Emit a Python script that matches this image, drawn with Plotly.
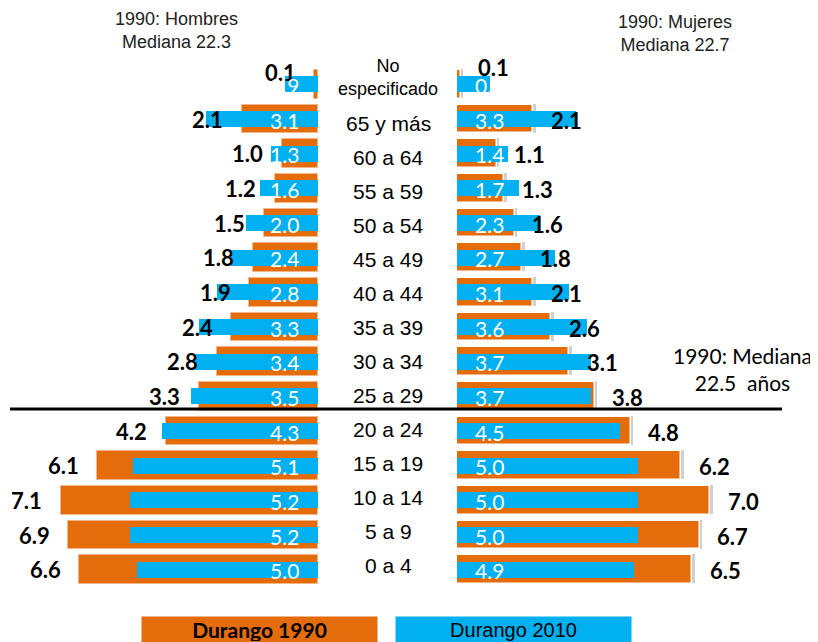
import plotly.graph_objects as go

categorias = ["0 a 4", "5 a 9", "10 a 14", "15 a 19", "20 a 24", "25 a 29",
              "30 a 34", "35 a 39", "40 a 44", "45 a 49", "50 a 54", "55 a 59",
              "60 a 64", "65 y más", "No especificado"]
hombres_1990 = [6.6, 6.9, 7.1, 6.1, 4.2, 3.3, 2.8, 2.4, 1.9, 1.8, 1.5, 1.2, 1.0, 2.1, 0.1]
hombres_2010 = [5.0, 5.2, 5.2, 5.1, 4.3, 3.5, 3.4, 3.3, 2.8, 2.4, 2.0, 1.6, 1.3, 3.1, 0.9]
mujeres_1990 = [6.5, 6.7, 7.0, 6.2, 4.8, 3.8, 3.1, 2.6, 2.1, 1.8, 1.6, 1.3, 1.1, 2.1, 0.1]
mujeres_2010 = [4.9, 5.0, 5.0, 5.0, 4.5, 3.7, 3.7, 3.6, 3.1, 2.7, 2.3, 1.7, 1.4, 3.3, 0.9]

ORANGE = "#E46C0A"
BLUE = "#00B0F0"
NUM_FONT = "Lato"
TXT_FONT = "Liberation Sans"

# page body has an 8px margin: work in window pixels and convert
OFF = 8
W, H = 818 - OFF, 642 - OFF
PLOT_TOP, PLOT_BOTTOM = 67, 587          # window pixels
LABEL_FIRST, LABEL_STEP = 565.5, 34.0    # window pixels, category label column
PX_PER_UNIT = 36.2
LEFT_END = 318
RIGHT_START = 457


def px(xw):
    return (xw - OFF) / W


def py(yw):
    return (PLOT_BOTTOM - yw) / (PLOT_BOTTOM - PLOT_TOP)


fig = go.Figure()

# soft shadow behind right-hand 1990 bars
fig.add_trace(go.Bar(y=categorias, x=[v + 0.07 for v in mujeres_1990], base=0.0,
                     orientation="h", width=0.83, offset=-0.39,
                     marker=dict(color="rgba(120,120,120,0.35)", line=dict(width=0)),
                     xaxis="x2", yaxis="y", hoverinfo="skip", showlegend=False))

fig.add_trace(go.Bar(y=categorias, x=hombres_1990, orientation="h", width=0.83,
                     marker=dict(color=ORANGE, line=dict(color="#F4B58A", width=1)),
                     xaxis="x", yaxis="y", name="Durango 1990", showlegend=False))
fig.add_trace(go.Bar(y=categorias, x=hombres_2010, orientation="h", width=0.46,
                     marker=dict(color=BLUE, line=dict(width=0)),
                     xaxis="x", yaxis="y", name="Durango 2010", showlegend=False))
fig.add_trace(go.Bar(y=categorias, x=mujeres_1990, orientation="h", width=0.83,
                     marker=dict(color=ORANGE, line=dict(color="white", width=1.5)),
                     xaxis="x2", yaxis="y", name="Durango 1990", showlegend=False))
fig.add_trace(go.Bar(y=categorias, x=mujeres_2010, orientation="h", width=0.46,
                     marker=dict(color=BLUE, line=dict(width=0)),
                     xaxis="x2", yaxis="y", name="Durango 2010", showlegend=False))

annotations = []
for i, cat in enumerate(categorias):
    ne = (cat == "No especificado")
    # 1990 values (bold black, outside orange bars)
    annotations.append(dict(x=hombres_1990[i], y=cat, xref="x", yref="y",
                            text=f"<b>{hombres_1990[i]:.1f}</b>", showarrow=False,
                            xanchor="center", xshift=-34, yshift=12 if ne else 0,
                            font=dict(family=NUM_FONT, size=22, color="black")))
    annotations.append(dict(x=mujeres_1990[i], y=cat, xref="x2", yref="y",
                            text=f"<b>{mujeres_1990[i]:.1f}</b>", showarrow=False,
                            xanchor="center", xshift=33, yshift=17 if ne else -1,
                            font=dict(family=NUM_FONT, size=22, color="black")))
    # 2010 values (white, inside near center)
    annotations.append(dict(x=0, y=cat, xref="x", yref="y", text=f"{hombres_2010[i]:.1f}",
                            showarrow=False, xanchor="right", xshift=-17, yshift=-1,
                            font=dict(family=NUM_FONT, size=21, color="white")))
    annotations.append(dict(x=0, y=cat, xref="x2", yref="y", text=f"{mujeres_2010[i]:.1f}",
                            showarrow=False, xanchor="left", xshift=16, yshift=-1,
                            font=dict(family=NUM_FONT, size=21, color="white")))
    # category labels (slightly tighter spacing than the bars)
    annotations.append(dict(x=px(388), y=py(LABEL_FIRST - LABEL_STEP * i),
                            xref="paper", yref="paper",
                            text=cat.replace(" ", "<br>") if ne else cat,
                            showarrow=False, xanchor="center", yanchor="middle",
                            yshift=12 if ne else 0,
                            font=dict(family=TXT_FONT, size=18 if ne else 21, color="black")))

# titles
annotations.append(dict(x=px(176), y=py(30), xref="paper", yref="paper",
                        text="1990: Hombres<br>Mediana 22.3", showarrow=False,
                        xanchor="center", yanchor="middle",
                        font=dict(family=TXT_FONT, size=18, color="#222")))
annotations.append(dict(x=px(675), y=py(33), xref="paper", yref="paper",
                        text="1990: Mujeres<br>Mediana 22.7", showarrow=False,
                        xanchor="center", yanchor="middle",
                        font=dict(family=TXT_FONT, size=18, color="#222")))
annotations.append(dict(x=px(742), y=py(369), xref="paper", yref="paper",
                        text="1990: Mediana<br>22.5  años", showarrow=False,
                        xanchor="center", yanchor="middle",
                        font=dict(family=NUM_FONT, size=21, color="black")))

# legend boxes
annotations.append(dict(x=px(259.5), y=py(629), xref="paper", yref="paper",
                        text="<b>Durango 1990</b>", showarrow=False, width=233, height=23,
                        bgcolor=ORANGE, xanchor="center", yanchor="middle",
                        font=dict(family=NUM_FONT, size=21, color="black")))
annotations.append(dict(x=px(513.5), y=py(629), xref="paper", yref="paper",
                        text="Durango 2010", showarrow=False, width=233, height=23,
                        bgcolor=BLUE, xanchor="center", yanchor="middle",
                        font=dict(family=TXT_FONT, size=20, color="black")))

shapes = [dict(type="line", xref="paper", yref="paper",
               x0=px(10), x1=px(782), y0=py(409), y1=py(409),
               line=dict(color="black", width=3))]

fig.update_layout(
    width=W, height=H,
    margin=dict(l=0, r=0, t=PLOT_TOP - OFF, b=H - (PLOT_BOTTOM - OFF), pad=0),
    paper_bgcolor="white", plot_bgcolor="white",
    barmode="overlay",
    bargap=0,
    xaxis=dict(domain=[0, px(LEFT_END)], range=[(LEFT_END - OFF) / PX_PER_UNIT, 0],
               visible=False, fixedrange=True),
    xaxis2=dict(domain=[px(RIGHT_START), 1], range=[0, (818 - RIGHT_START) / PX_PER_UNIT],
                visible=False, fixedrange=True),
    yaxis=dict(categoryorder="array", categoryarray=categorias, range=[-0.5, 14.5],
               visible=False, fixedrange=True),
    annotations=annotations,
    shapes=shapes,
    showlegend=False,
)

fig.write_html("out.html")
